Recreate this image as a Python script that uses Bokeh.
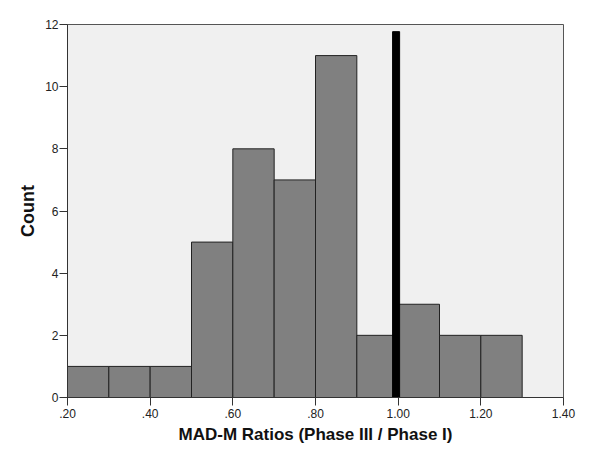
from bokeh.plotting import figure
from bokeh.models import FixedTicker, ColumnDataSource
from bokeh.embed import file_html
from bokeh.resources import INLINE

bin_left = [0.2, 0.3, 0.4, 0.5, 0.6, 0.7, 0.8, 0.9, 1.0, 1.1, 1.2]
bin_right = [0.3, 0.4, 0.5, 0.6, 0.7, 0.8, 0.9, 1.0, 1.1, 1.2, 1.3]
counts = [1, 1, 1, 5, 8, 7, 11, 2, 3, 2, 2]
x_ticks = [0.2, 0.4, 0.6, 0.8, 1.0, 1.2, 1.4]
x_tick_labels = [".20", ".40", ".60", ".80", "1.00", "1.20", "1.40"]
y_ticks = [0, 2, 4, 6, 8, 10, 12]
ref_x = [0.995]
ref_top = [11.77]

p = figure(width=600, height=458, output_backend="svg", toolbar_location=None,
           x_range=(0.2, 1.4), y_range=(0, 12),
           min_border_left=67, min_border_right=37, min_border_top=24, min_border_bottom=61)
p.background_fill_color = "#f0f0f0"
p.border_fill_color = "white"
p.outline_line_color = "#555555"
p.outline_line_width = 1
p.xgrid.visible = False
p.ygrid.visible = False

src = ColumnDataSource(dict(left=bin_left, right=bin_right, top=counts))
p.quad(left="left", right="right", bottom=0, top="top", source=src,
       fill_color="#808080", line_color="#222222", line_width=1)

p.vbar(x=ref_x, width=0.017, bottom=0, top=ref_top, fill_color="black", line_color="black")

p.xaxis.ticker = FixedTicker(ticks=x_ticks)
p.xaxis.major_label_overrides = {t: l for t, l in zip(x_ticks, x_tick_labels)}
p.yaxis.ticker = FixedTicker(ticks=y_ticks)
for ax in (p.xaxis[0], p.yaxis[0]):
    ax.minor_tick_line_color = None
    ax.major_tick_in = 0
    ax.major_tick_out = 8
    ax.major_tick_line_color = "#333333"
    ax.axis_line_color = "#333333"
    ax.major_label_text_font = "Liberation Sans"
    ax.major_label_text_font_size = "12px"
    ax.major_label_text_color = "#222222"
    ax.axis_label_text_font = "Liberation Sans"
    ax.axis_label_text_font_style = "bold"
    ax.axis_label_text_color = "#111111"
p.xaxis.axis_label_text_font_size = "17px"
p.yaxis.axis_label_text_font_size = "18px"
p.xaxis.axis_label = "MAD-M Ratios (Phase III / Phase I)"
p.yaxis.axis_label = "Count"
p.yaxis.major_label_orientation = "horizontal"
p.xaxis.major_label_standoff = 3
p.yaxis.major_label_standoff = 1
p.xaxis.axis_label_standoff = 4
p.yaxis.axis_label_standoff = 4

open("out.html", "w").write(file_html(p, INLINE))
